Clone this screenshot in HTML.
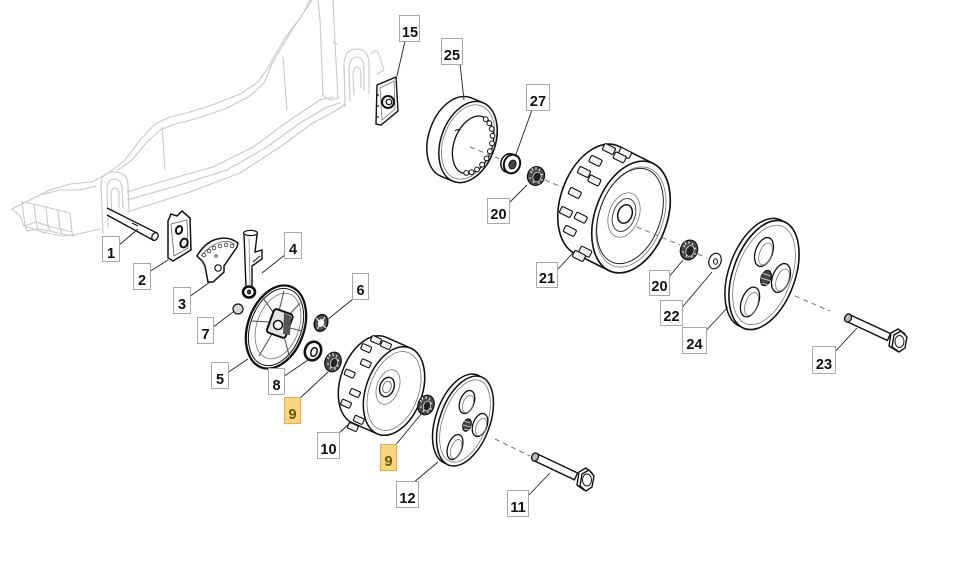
<!DOCTYPE html>
<html><head><meta charset="utf-8"><style>
html,body{margin:0;padding:0;background:#fff;}
svg{display:block;}
.lb{font-family:"Liberation Sans",Arial,sans-serif;font-size:14.5px;font-weight:bold;fill:#111;text-anchor:middle;}
.bx{fill:#fff;stroke:#a8a8a8;stroke-width:1;}
.yb{fill:#fcd47c;stroke:#e0ad48;stroke-width:1;}
.yt{fill:#6a5616;}
.ld{stroke:#222;stroke-width:0.9;fill:none;}
.dk{stroke:#111;fill:#fff;stroke-width:1.4;}
.dash{stroke:#777;stroke-width:1;stroke-dasharray:5,4;fill:none;}
.dk2{stroke:#c9c9c9;stroke-width:1.1;fill:none;stroke-linejoin:round;stroke-linecap:round;}
.lug{fill:#f3f3f3;stroke:#111;stroke-width:1.1;}
.thin{fill:none;stroke:#777;stroke-width:0.8;}
</style></head><body>
<svg width="959" height="587" viewBox="0 0 959 587" xmlns="http://www.w3.org/2000/svg">
<rect width="959" height="587" fill="#fff"/>

<!-- ===== Mower deck (light gray) ===== -->
<g class="dk2">
<polyline points="12,209 30,200 50,190 70,184 92,182 110,172 125,160 140,140 155,124 170,117 190,112 215,104 240,94 258,82 268,68 275,55 285,38 300,18 312,0"/>
<polyline points="118,170 132,160 146,143 160,130 175,124 195,119 225,109 250,96 264,83 272,64 280,50 292,30 304,12 310,0"/>
<polyline points="127,192 167,180 213,167 253,147 290,120 320,100 333,97"/>
<polyline points="127,200 173,187 227,170 267,147 300,123 327,107 340,103"/>
<polyline points="130,211 187,193 240,173 280,147 313,123 337,110 345,104"/>
<polyline points="12,209 20,216 24,226 42,232 62,236 78,234 100,229"/>
<polyline points="40,195 60,190 80,190 96,186"/>
<polyline points="162,127 165,170"/>
<polyline points="283,57 287,110"/>
<polyline points="318,0 320,20 323,95"/>
<polyline points="333,0 335,43 338,98"/>
<polyline points="333,42 337,44"/>
<polyline points="322,95 330,100 338,98"/>
<!-- teeth -->
<path d="M22,202 L34,204 L36,222 L25,226 Z M34,204 L46,207 L48,226 L36,222 M46,207 L58,210 L60,229 L48,226 M58,210 L70,213 L72,232 L60,229"/>
<path d="M25,226 L27,231 L38,229 L36,222 M38,229 L50,231 L48,226 M50,231 L62,234 L60,229 M62,234 L74,236 L72,232"/>
<!-- left bracket -->
<path d="M103,233 L101,185 Q101,172 114,172 Q128,172 128,185 L129,213"/>
<path d="M108,228 L107,190 Q107,179 114,179 Q122,179 122,190 L123,208"/>
<path d="M112,216 L111,196 Q111,188 115,188 Q119,188 119,196 L119,208"/>
<!-- right bracket -->
<path d="M345,107 L344,65 Q344,49 357,49 Q369,49 369,65 L369,94"/>
<path d="M350,101 L349,70 Q349,57 357,57 Q364,57 364,70 L364,90"/>
<path d="M354,95 L353,76 Q353,67 357,67 Q361,67 361,76 L361,88"/>
<path d="M371,54 Q377,46 380,58 L384,70 L377,74"/>
</g>

<!-- ===== Part 1 pin ===== -->
<g>
<path d="M107,208 L157,233 L153,240 L107,215" fill="#fff" stroke="#111" stroke-width="1.4"/>
<ellipse cx="155" cy="236.5" rx="3" ry="4" transform="rotate(25 155 236.5)" fill="#fff" stroke="#111" stroke-width="1.3"/>
<line x1="132" y1="223" x2="138" y2="226" stroke="#111" stroke-width="1"/>
</g>

<!-- ===== Part 2 plate ===== -->
<g>
<path d="M168,221 L171,214 L177,216 L182,211 L190,218 L191,250 L173,261 L168,258 Z" fill="#fff" stroke="#111" stroke-width="1.5"/>
<path d="M171,224 L187,220 L188,248 L174,256 Z" fill="none" stroke="#666" stroke-width="0.8"/>
<ellipse cx="179" cy="230" rx="3" ry="4" transform="rotate(20 179 230)" fill="#fff" stroke="#111" stroke-width="2"/>
<ellipse cx="184" cy="243" rx="3.5" ry="4.5" transform="rotate(20 184 243)" fill="#fff" stroke="#111" stroke-width="2"/>
</g>

<!-- ===== Part 3 sector ===== -->
<g>
<path d="M197,256 Q204,244 214,240 Q228,235 238,243 L237,247 L224,266 L224,272 L213,282 L208,282 L205,266 L203,262 Z" fill="#fff" stroke="#111" stroke-width="1.5"/>
<path d="M201,256 Q210,245 221,242 Q231,240 235,245" fill="none" stroke="#666" stroke-width="0.8"/>
<g fill="#fff" stroke="#333" stroke-width="0.8">
<circle cx="204" cy="255" r="1.8"/><circle cx="209" cy="251" r="1.8"/><circle cx="214" cy="248" r="1.8"/><circle cx="220" cy="246" r="1.8"/><circle cx="226" cy="245" r="1.8"/><circle cx="232" cy="246" r="1.8"/>
<circle cx="216" cy="256" r="1.2"/>
</g>
<circle cx="218" cy="268" r="3.2" fill="#fff" stroke="#111" stroke-width="1.2"/>
</g>

<!-- ===== Part 4 lever ===== -->
<g>
<path d="M244,233 L246,288 L252,288 L252,266 L262,259 L262,250 L255,252 L257,235 Z" fill="#fff" stroke="#111" stroke-width="1.4"/>
<ellipse cx="250.5" cy="233" rx="7" ry="2.6" fill="#fff" stroke="#111" stroke-width="1.2"/>
<line x1="249" y1="238" x2="250" y2="285" stroke="#888" stroke-width="0.8"/>
<path d="M253,262 L260,256" stroke="#111" stroke-width="1"/>
<ellipse cx="249" cy="292" rx="6" ry="5.5" fill="#fff" stroke="#111" stroke-width="2.6"/>
<ellipse cx="249" cy="292" rx="2.2" ry="2.6" fill="#333"/>
</g>

<!-- ===== Part 7 ===== -->
<circle cx="238" cy="309" r="5" fill="#d8d8d8" stroke="#111" stroke-width="1.2"/>

<!-- ===== Part 5 wheel disc ===== -->
<g>
<ellipse cx="276" cy="327" rx="28" ry="43" transform="rotate(20 276 327)" fill="#fff" stroke="#111" stroke-width="2.3"/>
<ellipse cx="276" cy="327" rx="25.5" ry="40" transform="rotate(20 276 327)" fill="none" stroke="#111" stroke-width="1"/>
<ellipse cx="278" cy="326" rx="21" ry="34" transform="rotate(20 278 326)" class="thin"/>
<g stroke="#555" stroke-width="1.1">
<line x1="279" y1="311" x2="284" y2="291"/>
<line x1="288" y1="316" x2="300" y2="303"/>
<line x1="290" y1="328" x2="302" y2="331"/>
<line x1="284" y1="336" x2="290" y2="359"/>
<line x1="272" y1="334" x2="259" y2="356"/>
<line x1="270" y1="322" x2="251" y2="321"/>
<line x1="273" y1="312" x2="263" y2="298"/>
</g>
<rect x="270" y="311" width="20" height="25" rx="3" transform="rotate(20 280 323)" fill="#e6e6e6" stroke="#111" stroke-width="2"/>
<path d="M284,313 L291,316 L290,335 L283,334 Z" fill="#555"/>
<circle cx="278" cy="325" r="4.5" fill="#fff" stroke="#111" stroke-width="1.5"/>
</g>

<!-- ===== Part 6 nut ===== -->
<g>
<ellipse cx="321" cy="323" rx="6.5" ry="8.5" transform="rotate(20 321 323)" fill="#555" stroke="#111" stroke-width="1.5"/>
<ellipse cx="321" cy="323" rx="3" ry="4" transform="rotate(20 321 323)" fill="#fff"/>
<path d="M316,318 L326,328 M325,317 L317,329" stroke="#fff" stroke-width="1"/>
</g>

<!-- ===== Part 8 washer ===== -->
<g>
<ellipse cx="313" cy="351" rx="8" ry="9.5" transform="rotate(20 313 351)" fill="#fff" stroke="#111" stroke-width="2.6"/>
<ellipse cx="314" cy="352" rx="3" ry="4.5" transform="rotate(20 314 352)" fill="#fff" stroke="#111" stroke-width="1.5"/>
</g>

<!-- ===== Part 9 bearing left ===== -->
<g>
<ellipse cx="333" cy="362" rx="8" ry="10" transform="rotate(20 333 362)" fill="#4a4a4a" stroke="#111" stroke-width="1.2"/>
<ellipse cx="334" cy="363" rx="3.5" ry="5" transform="rotate(20 334 363)" fill="#222" stroke="#ddd" stroke-width="0.8"/>
<path d="M327,357 L329,359 M329,354 L330,357 M333,353 L333,356 M337,355 L336,357 M339,360 L337,361 M339,366 L337,366 M335,370 L335,368 M330,369 L331,367 M327,364 L329,364" stroke="#eee" stroke-width="1"/>
</g>

<!-- ===== Part 10 small wheel ===== -->
<g>
<path d="M385.8,337.2 L410.8,348.2 A28 46 20 0 1 377.2,433.8 L352.2,422.8 A28 46 20 0 1 385.8,337.2 Z" fill="#fff" stroke="#111" stroke-width="1.5"/>
<g class="lug">
<rect x="-5" y="-3" width="10" height="6" rx="1.3" transform="translate(386,345.1) rotate(24)"/>
<rect x="-5" y="-3" width="10" height="6" rx="1.3" transform="translate(366.2,348.1) rotate(24)"/>
<rect x="-5" y="-3" width="10" height="6" rx="1.3" transform="translate(365.8,363.4) rotate(24)"/>
<rect x="-5" y="-3" width="10" height="6" rx="1.3" transform="translate(349.7,373.6) rotate(24)"/>
<rect x="-5" y="-3" width="10" height="6" rx="1.3" transform="translate(355,393) rotate(24)"/>
<rect x="-5" y="-3" width="10" height="6" rx="1.3" transform="translate(346,403.7) rotate(24)"/>
<rect x="-5" y="-3" width="10" height="6" rx="1.3" transform="translate(358.8,419.9) rotate(24)"/>
<rect x="-5" y="-3" width="10" height="6" rx="1.3" transform="translate(352.8,427) rotate(24)"/>
<rect x="-5" y="-3" width="10" height="6" rx="1.3" transform="translate(376,340) rotate(24)"/>
</g>
<ellipse cx="394" cy="391" rx="28" ry="46" transform="rotate(20 394 391)" fill="#fff" stroke="#111" stroke-width="1.5"/>
<ellipse cx="394" cy="391" rx="24.5" ry="41" transform="rotate(20 394 391)" class="thin"/>
<ellipse cx="388" cy="387" rx="11" ry="18" transform="rotate(20 388 387)" class="thin"/>
<ellipse cx="387" cy="387" rx="7" ry="10" transform="rotate(20 387 387)" fill="#fff" stroke="#111" stroke-width="1.4"/>
<ellipse cx="387" cy="387" rx="4" ry="6" transform="rotate(20 387 387)" fill="none" stroke="#555" stroke-width="0.8"/>
</g>

<!-- ===== Part 9 bearing right ===== -->
<g>
<ellipse cx="426" cy="405" rx="8" ry="10" transform="rotate(20 426 405)" fill="#4a4a4a" stroke="#111" stroke-width="1.2"/>
<ellipse cx="427" cy="406" rx="3.5" ry="5" transform="rotate(20 427 406)" fill="#222" stroke="#ddd" stroke-width="0.8"/>
<path d="M420,400 L422,402 M422,397 L423,400 M426,396 L426,399 M430,398 L429,400 M432,403 L430,404 M432,409 L430,409 M428,413 L428,411 M423,412 L424,410 M420,407 L422,407" stroke="#eee" stroke-width="1"/>
</g>

<!-- ===== Part 12 hubcap ===== -->
<g>
<ellipse cx="461" cy="419" rx="25" ry="47" transform="rotate(20 461 419)" fill="#fff" stroke="#111" stroke-width="1.5"/>
<ellipse cx="465" cy="421" rx="25" ry="47" transform="rotate(20 465 421)" fill="#fff" stroke="#111" stroke-width="1.5"/>
<ellipse cx="465" cy="421" rx="22" ry="43" transform="rotate(20 465 421)" class="thin"/>
<ellipse cx="467" cy="402" rx="7" ry="12" transform="rotate(20 467 402)" fill="#fff" stroke="#111" stroke-width="1.3"/>
<ellipse cx="480" cy="425" rx="7" ry="12" transform="rotate(20 480 425)" fill="#fff" stroke="#111" stroke-width="1.3"/>
<ellipse cx="455" cy="447" rx="7" ry="13" transform="rotate(20 455 447)" fill="#fff" stroke="#111" stroke-width="1.3"/>
<ellipse cx="468" cy="404" rx="5" ry="9" transform="rotate(20 468 404)" class="thin"/>
<ellipse cx="481" cy="427" rx="5" ry="9" transform="rotate(20 481 427)" class="thin"/>
<ellipse cx="456" cy="449" rx="5" ry="10" transform="rotate(20 456 449)" class="thin"/>
<ellipse cx="467" cy="425" rx="4" ry="6.5" transform="rotate(20 467 425)" fill="#444" stroke="#111" stroke-width="1"/>
<path d="M464,421 L470,423 M463,425 L471,427 M464,429 L469,430" stroke="#ddd" stroke-width="0.8"/>
</g>

<!-- ===== Part 11 bolt ===== -->
<g>
<line class="dash" x1="495" y1="439" x2="530" y2="456"/>
<path d="M536.6,453.6 L577.6,473 L574.4,479.8 L533.4,460.4 Z" fill="#fff" stroke="#111" stroke-width="1.4"/>
<ellipse cx="535" cy="457" rx="3.3" ry="4.2" transform="rotate(25 535 457)" fill="#bbb" stroke="#111" stroke-width="1.3"/>
<polygon points="579,472 586,468 592,473 590,485 584,490 577,485" fill="#fff" stroke="#111" stroke-width="1.4"/>
<polygon points="582,474 589,470 594,476 592,487 586,491 580,486" fill="#fff" stroke="#111" stroke-width="1.4"/>
<ellipse cx="587" cy="480" rx="4.5" ry="6" fill="none" stroke="#111" stroke-width="1"/>
</g>

<!-- ===== Part 15 plate ===== -->
<g>
<path d="M377,85 L396,77 L398,111 L381,125 L376,124 Z" fill="#fff" stroke="#111" stroke-width="1.4"/>
<path d="M380,88 L394,81 L395,109 L382,120 Z" fill="none" stroke="#777" stroke-width="0.8"/>
<circle cx="388" cy="102" r="6" fill="#fff" stroke="#111" stroke-width="2"/>
<circle cx="389" cy="102" r="2.8" fill="#fff" stroke="#111" stroke-width="1.2"/>
<circle cx="378" cy="95" r="0.9" fill="#111"/><circle cx="378" cy="106" r="0.9" fill="#111"/><circle cx="378" cy="117" r="0.9" fill="#111"/>
</g>

<!-- ===== Part 25 ring ===== -->
<g>
<line class="dash" x1="452" y1="138" x2="470" y2="146"/>
<path d="M471.1,97.8 L483.1,102.8 A27 42 20 0 1 452.9,181.2 L440.9,176.2 A27 42 20 0 1 471.1,97.8 Z" fill="#fff" stroke="#111" stroke-width="1.5"/>
<ellipse cx="468" cy="142" rx="27" ry="42" transform="rotate(20 468 142)" fill="#fff" stroke="#111" stroke-width="1.5"/>
<ellipse cx="468" cy="142" rx="24.5" ry="38.5" transform="rotate(20 468 142)" class="thin"/>
<ellipse cx="473" cy="145" rx="19" ry="30" transform="rotate(20 473 145)" fill="#fff" stroke="#111" stroke-width="1.3"/>
<g fill="#fff" stroke="#111" stroke-width="1">
<circle cx="485.7" cy="119.2" r="2.4"/><circle cx="489.3" cy="123.2" r="2.4"/><circle cx="491.7" cy="128.9" r="2.4"/><circle cx="492.6" cy="135.8" r="2.4"/><circle cx="492" cy="143.4" r="2.4"/><circle cx="489.9" cy="151.2" r="2.4"/><circle cx="486.5" cy="158.4" r="2.4"/><circle cx="482.1" cy="164.7" r="2.4"/><circle cx="477" cy="169.4" r="2.4"/><circle cx="471.5" cy="172.2" r="2.4"/><circle cx="466.2" cy="172.9" r="2.4"/>
</g>
<path d="M455,131 Q458,128 460,131" fill="none" stroke="#111" stroke-width="1"/>
<line class="dash" x1="470" y1="147" x2="500" y2="159"/>
</g>

<!-- ===== Part 27 washer ===== -->
<g>
<ellipse cx="509" cy="163" rx="8" ry="9.5" transform="rotate(20 509 163)" fill="#fff" stroke="#111" stroke-width="1.5"/>
<ellipse cx="512" cy="164" rx="8" ry="9.5" transform="rotate(20 512 164)" fill="#fff" stroke="#111" stroke-width="2"/>
<ellipse cx="512.5" cy="164.5" rx="3.5" ry="4.5" transform="rotate(20 512.5 164.5)" fill="#444" stroke="#111" stroke-width="1"/>
</g>

<!-- ===== Part 20 bearing upper ===== -->
<g>
<line class="dash" x1="545" y1="180" x2="578" y2="194"/>
<ellipse cx="536" cy="176" rx="8.5" ry="9.5" transform="rotate(20 536 176)" fill="#4a4a4a" stroke="#111" stroke-width="1.2"/>
<ellipse cx="537" cy="177" rx="4" ry="5" transform="rotate(20 537 177)" fill="#222" stroke="#ddd" stroke-width="0.8"/>
<path d="M530,171 L532,173 M532,168 L533,171 M536,167 L536,170 M540,169 L539,171 M543,174 L541,175 M543,180 L541,180 M539,184 L539,182 M533,183 L534,181 M529,178 L531,178" stroke="#eee" stroke-width="1"/>
</g>

<!-- ===== Part 21 large wheel ===== -->
<g>
<path d="M619.2,146.5 L653.2,163.5 A36 58 20 0 1 608.8,270.5 L574.8,253.5 A36 58 20 0 1 619.2,146.5 Z" fill="#fff" stroke="#111" stroke-width="1.6"/>
<g class="lug">
<rect x="-6" y="-3.5" width="12" height="7" rx="1.5" transform="translate(625,153) rotate(26.6)"/>
<rect x="-6" y="-3.5" width="12" height="7" rx="1.5" transform="translate(619.7,157.4) rotate(26.6)"/>
<rect x="-6" y="-3.5" width="12" height="7" rx="1.5" transform="translate(595.5,160.9) rotate(26.6)"/>
<rect x="-6" y="-3.5" width="12" height="7" rx="1.5" transform="translate(594.4,180.5) rotate(26.6)"/>
<rect x="-6" y="-3.5" width="12" height="7" rx="1.5" transform="translate(574.8,193) rotate(26.6)"/>
<rect x="-6" y="-3.5" width="12" height="7" rx="1.5" transform="translate(580.8,217.7) rotate(26.6)"/>
<rect x="-6" y="-3.5" width="12" height="7" rx="1.5" transform="translate(569.9,230.9) rotate(26.6)"/>
<rect x="-6" y="-3.5" width="12" height="7" rx="1.5" transform="translate(585.3,251.7) rotate(26.6)"/>
<rect x="-6" y="-3.5" width="12" height="7" rx="1.5" transform="translate(579,256) rotate(26.6)"/>
<rect x="-6" y="-3.5" width="12" height="7" rx="1.5" transform="translate(609,149) rotate(26.6)"/>
<rect x="-6" y="-3.5" width="12" height="7" rx="1.5" transform="translate(584,172) rotate(26.6)"/>
<rect x="-6" y="-3.5" width="12" height="7" rx="1.5" transform="translate(566,212) rotate(26.6)"/>
</g>
<ellipse cx="631" cy="217" rx="36" ry="58" transform="rotate(20 631 217)" fill="#fff" stroke="#111" stroke-width="1.6"/>
<ellipse cx="631" cy="217" rx="32" ry="52" transform="rotate(20 631 217)" class="thin"/>
<ellipse cx="630" cy="216" rx="30.5" ry="49.5" transform="rotate(20 630 216)" fill="none" stroke="#111" stroke-width="0.9"/>
<ellipse cx="624" cy="215" rx="15" ry="23" transform="rotate(20 624 215)" class="thin"/>
<ellipse cx="624" cy="215" rx="11" ry="17" transform="rotate(20 624 215)" fill="none" stroke="#444" stroke-width="1"/>
<ellipse cx="625" cy="214" rx="7" ry="9.5" transform="rotate(20 625 214)" fill="#fff" stroke="#111" stroke-width="1.5"/>
<line class="dash" x1="637" y1="227" x2="680" y2="245"/>
</g>

<!-- ===== Part 20 bearing right ===== -->
<g>
<ellipse cx="689" cy="250" rx="8.5" ry="10" transform="rotate(20 689 250)" fill="#4a4a4a" stroke="#111" stroke-width="1.2"/>
<ellipse cx="690" cy="251" rx="4" ry="5.5" transform="rotate(20 690 251)" fill="#222" stroke="#ddd" stroke-width="0.8"/>
<path d="M683,245 L685,247 M685,242 L686,245 M689,241 L689,244 M693,243 L692,245 M696,248 L694,249 M696,254 L694,254 M692,258 L692,256 M686,257 L687,255 M682,252 L684,252" stroke="#eee" stroke-width="1"/>
<line class="dash" x1="698" y1="254" x2="707" y2="258"/>
</g>

<!-- ===== Part 22 washer ===== -->
<g>
<ellipse cx="715" cy="261" rx="6" ry="8" transform="rotate(20 715 261)" fill="#fff" stroke="#111" stroke-width="1.2"/>
<ellipse cx="715.5" cy="261.5" rx="2" ry="2.8" fill="#fff" stroke="#111" stroke-width="1"/>
</g>

<!-- ===== Part 24 hubcap ===== -->
<g>
<ellipse cx="760" cy="273" rx="31" ry="57" transform="rotate(20 760 273)" fill="#fff" stroke="#111" stroke-width="1.5"/>
<ellipse cx="764" cy="275" rx="31" ry="57" transform="rotate(20 764 275)" fill="#fff" stroke="#111" stroke-width="1.6"/>
<ellipse cx="764" cy="275" rx="27.5" ry="52" transform="rotate(20 764 275)" class="thin"/>
<ellipse cx="764" cy="252" rx="8.5" ry="15" transform="rotate(20 764 252)" fill="#fff" stroke="#111" stroke-width="1.3"/>
<ellipse cx="781" cy="278" rx="8.5" ry="15" transform="rotate(20 781 278)" fill="#fff" stroke="#111" stroke-width="1.3"/>
<ellipse cx="750" cy="302" rx="8.5" ry="15.5" transform="rotate(20 750 302)" fill="#fff" stroke="#111" stroke-width="1.3"/>
<ellipse cx="765.5" cy="254" rx="6" ry="11.5" transform="rotate(20 765.5 254)" class="thin"/>
<ellipse cx="782.5" cy="280" rx="6" ry="11.5" transform="rotate(20 782.5 280)" class="thin"/>
<ellipse cx="751.5" cy="304" rx="6" ry="12" transform="rotate(20 751.5 304)" class="thin"/>
<ellipse cx="766" cy="278" rx="5" ry="8" transform="rotate(20 766 278)" fill="#444" stroke="#111" stroke-width="1"/>
<path d="M762,273 L770,276 M761,278 L771,281 M762,283 L768,285" stroke="#ddd" stroke-width="0.8"/>
</g>

<!-- ===== Part 23 bolt ===== -->
<g>
<line class="dash" x1="795" y1="296" x2="830" y2="311"/>
<path d="M849.6,314.6 L890.6,333.6 L887.4,340.4 L846.4,321.4 Z" fill="#fff" stroke="#111" stroke-width="1.4"/>
<ellipse cx="848" cy="318" rx="3.3" ry="4.2" transform="rotate(25 848 318)" fill="#bbb" stroke="#111" stroke-width="1.3"/>
<polygon points="891,333 898,329 905,334 903,346 897,351 889,346" fill="#fff" stroke="#111" stroke-width="1.4"/>
<polygon points="894,335 901,331 907,337 905,348 899,352 892,347" fill="#fff" stroke="#111" stroke-width="1.4"/>
<ellipse cx="899.5" cy="341.5" rx="4.5" ry="6" fill="none" stroke="#111" stroke-width="1"/>
</g>

<!-- ===== Leaders ===== -->
<g class="ld">
<line x1="118" y1="246" x2="138" y2="229"/>
<line x1="149" y1="272" x2="168" y2="260"/>
<line x1="189" y1="297" x2="210" y2="282"/>
<line x1="286" y1="254" x2="262" y2="273"/>
<line x1="227" y1="373" x2="248" y2="359"/>
<line x1="353" y1="299" x2="327" y2="320"/>
<line x1="212" y1="328" x2="233" y2="312"/>
<line x1="283" y1="377" x2="308" y2="360"/>
<line x1="298" y1="400" x2="328" y2="372"/>
<line x1="335" y1="437" x2="350" y2="423"/>
<line x1="394" y1="447" x2="422" y2="413"/>
<line x1="413" y1="483" x2="438" y2="462"/>
<line x1="527" y1="497" x2="550" y2="473"/>
<line x1="405" y1="41" x2="397" y2="76"/>
<line x1="460" y1="64" x2="464" y2="100"/>
<line x1="532" y1="110" x2="515" y2="157"/>
<line x1="509" y1="203" x2="527" y2="185"/>
<line x1="557" y1="270" x2="573" y2="253"/>
<line x1="668" y1="278" x2="683" y2="260"/>
<line x1="680" y1="310" x2="712" y2="272"/>
<line x1="702" y1="335" x2="728" y2="307"/>
<line x1="832" y1="355" x2="857" y2="328"/>
</g>

<!-- ===== Labels ===== -->
<g>
<rect class="bx" x="102.5" y="236.5" width="17" height="25"/><text class="lb" x="111" y="258">1</text>
<rect class="bx" x="133.5" y="263.5" width="17" height="26"/><text class="lb" x="142" y="285">2</text>
<rect class="bx" x="173.5" y="287.5" width="17" height="26"/><text class="lb" x="182" y="309">3</text>
<rect class="bx" x="284.5" y="232.5" width="17" height="26"/><text class="lb" x="293" y="254">4</text>
<rect class="bx" x="211.5" y="362.5" width="17" height="26"/><text class="lb" x="220" y="384">5</text>
<rect class="bx" x="352.5" y="273.5" width="16" height="26"/><text class="lb" x="360.5" y="295">6</text>
<rect class="bx" x="197.5" y="317.5" width="16" height="26"/><text class="lb" x="205.5" y="339">7</text>
<rect class="bx" x="268.5" y="368.5" width="16" height="26"/><text class="lb" x="276.5" y="390">8</text>
<rect class="yb" x="284.5" y="397.5" width="16" height="26"/><text class="lb yt" x="292.5" y="419">9</text>
<rect class="bx" x="317.5" y="432.5" width="22" height="26"/><text class="lb" x="328.5" y="454">10</text>
<rect class="yb" x="380.5" y="444.5" width="16" height="26"/><text class="lb yt" x="388.5" y="466">9</text>
<rect class="bx" x="396.5" y="481.5" width="22" height="26"/><text class="lb" x="407.5" y="503">12</text>
<rect class="bx" x="507.5" y="490.5" width="21" height="26"/><text class="lb" x="518" y="512">11</text>
<rect class="bx" x="399.5" y="15.5" width="20" height="26"/><text class="lb" x="410" y="37">15</text>
<rect class="bx" x="441.5" y="38.5" width="21" height="26"/><text class="lb" x="452" y="60">25</text>
<rect class="bx" x="526.5" y="84.5" width="23" height="26"/><text class="lb" x="538" y="106">27</text>
<rect class="bx" x="487.5" y="198.5" width="22" height="25"/><text class="lb" x="498.5" y="219">20</text>
<rect class="bx" x="536.5" y="262.5" width="21" height="25"/><text class="lb" x="547" y="283">21</text>
<rect class="bx" x="649.5" y="270.5" width="20" height="25"/><text class="lb" x="659.5" y="291">20</text>
<rect class="bx" x="660.5" y="300.5" width="22" height="25"/><text class="lb" x="671.5" y="321">22</text>
<rect class="bx" x="682.5" y="327.5" width="24" height="26"/><text class="lb" x="694.5" y="349">24</text>
<rect class="bx" x="812.5" y="346.5" width="23" height="27"/><text class="lb" x="824" y="369">23</text>
</g>
</svg>
</body></html>
